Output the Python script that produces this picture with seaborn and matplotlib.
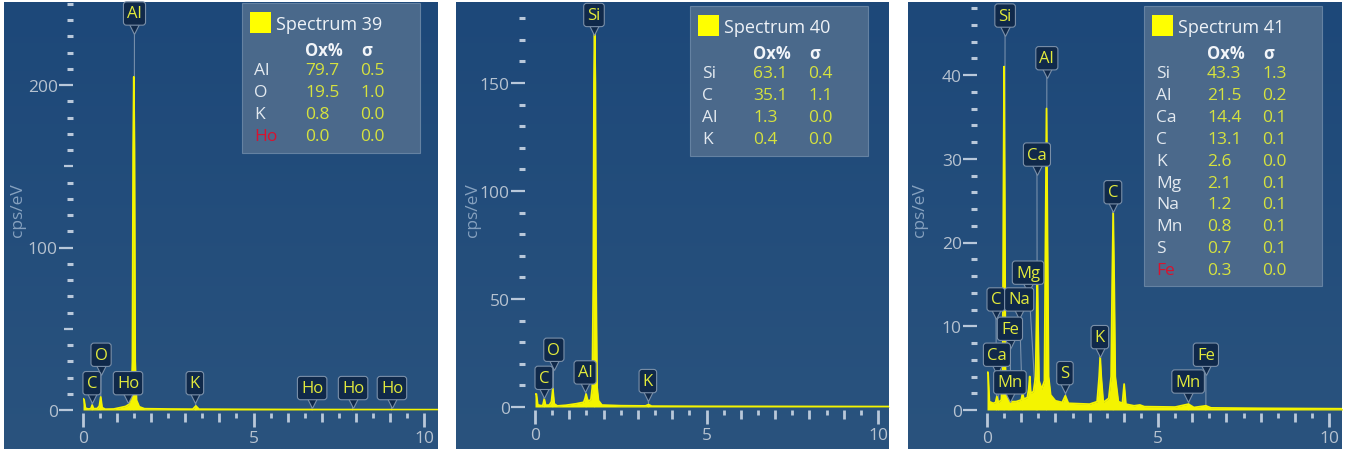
import numpy as np
import pandas as pd
import matplotlib
matplotlib.use("Agg")
import matplotlib.pyplot as plt
import seaborn as sns
from matplotlib.ticker import FixedLocator, FuncFormatter
from matplotlib.patches import Rectangle
from matplotlib.transforms import offset_copy

# ---------------------------------------------------------------- data
# Spectrum 39
s39_energy = [0.00, 0.03, 0.07, 0.15, 0.23, 0.27, 0.31, 0.42, 0.48, 0.52, 0.56, 0.65,
              0.90, 1.10, 1.25, 1.35, 1.42, 1.45, 1.47, 1.49, 1.51, 1.53, 1.57, 1.65,
              1.80, 2.50, 3.22, 3.31, 3.40, 4.50, 6.00, 8.00, 10.40]
s39_cps = [7.0, 6.5, 1.2, 0.6, 0.8, 3.0, 0.8, 0.9, 2.5, 8.0, 1.5, 0.5,
           0.6, 1.5, 2.2, 3.5, 8.0, 30.0, 160.0, 205.0, 160.0, 30.0, 6.0, 2.0,
           0.8, 0.6, 0.5, 2.5, 0.5, 0.4, 0.3, 0.25, 0.2]
s39_elements = ["Al", "O", "K", "Ho"]
s39_oxpct = [79.7, 19.5, 0.8, 0.0]
s39_sigma = [0.5, 1.0, 0.0, 0.0]
s39_flagged = ["Ho"]
s39_peak_names = ["Al", "O", "C", "Ho", "K", "Ho", "Ho", "Ho"]
s39_peak_energy = [1.49, 0.52, 0.27, 1.40, 3.31, 6.72, 7.91, 9.05]

# Spectrum 40
s40_energy = [0.00, 0.04, 0.08, 0.18, 0.23, 0.27, 0.31, 0.42, 0.48, 0.52, 0.56, 0.65,
              0.90, 1.20, 1.42, 1.46, 1.49, 1.52, 1.56, 1.63, 1.67, 1.70, 1.72, 1.74,
              1.76, 1.78, 1.81, 1.85, 1.95, 2.50, 3.22, 3.31, 3.40, 5.00, 10.40]
s40_cps = [6.0, 6.0, 1.0, 0.6, 0.8, 3.7, 0.8, 0.9, 2.5, 8.5, 1.5, 0.5,
           0.8, 1.5, 2.2, 4.0, 6.0, 4.0, 2.5, 3.5, 9.0, 60.0, 150.0, 174.0,
           150.0, 60.0, 9.0, 3.0, 0.9, 0.6, 0.5, 1.1, 0.4, 0.3, 0.2]
s40_elements = ["Si", "C", "Al", "K"]
s40_oxpct = [63.1, 35.1, 1.3, 0.4]
s40_sigma = [0.4, 1.1, 0.0, 0.0]
s40_flagged = []
s40_peak_names = ["Si", "O", "C", "Al", "K"]
s40_peak_energy = [1.74, 0.52, 0.27, 1.49, 3.31]

# Spectrum 41
s41_energy = [0.00, 0.03, 0.07, 0.18, 0.25, 0.29, 0.33, 0.42, 0.46, 0.48, 0.50, 0.52,
              0.54, 0.58, 0.68, 0.85, 1.00, 1.04, 1.08, 1.18, 1.22, 1.25, 1.28, 1.36,
              1.42, 1.45, 1.47, 1.49, 1.52, 1.60, 1.68, 1.71, 1.74, 1.77, 1.80, 1.86,
              2.00, 2.20, 2.29, 2.38, 3.00, 3.22, 3.28, 3.31, 3.34, 3.40, 3.56, 3.63,
              3.66, 3.69, 3.72, 3.75, 3.84, 3.96, 4.01, 4.06, 4.30, 4.47, 4.60, 5.50,
              5.89, 6.05, 6.40, 6.55, 8.00, 10.40]
s41_cps = [4.5, 4.5, 1.0, 0.8, 0.9, 1.6, 0.9, 1.2, 5.0, 25.0, 41.0, 25.0,
           5.0, 1.5, 1.0, 1.0, 1.2, 2.0, 1.3, 1.5, 2.5, 4.0, 2.0, 2.2,
           4.0, 11.0, 17.0, 11.0, 3.5, 2.5, 3.5, 20.0, 36.0, 20.0, 4.0, 1.8,
           1.1, 0.9, 1.7, 0.8, 0.7, 1.0, 4.0, 6.3, 4.0, 0.9, 1.4, 4.0,
           15.0, 23.5, 15.0, 4.0, 1.0, 0.8, 3.1, 0.7, 0.5, 0.6, 0.4, 0.35,
           0.7, 0.3, 0.5, 0.25, 0.2, 0.15]
s41_elements = ["Si", "Al", "Ca", "C", "K", "Mg", "Na", "Mn", "S", "Fe"]
s41_oxpct = [43.3, 21.5, 14.4, 13.1, 2.6, 2.1, 1.2, 0.8, 0.7, 0.3]
s41_sigma = [1.3, 0.2, 0.1, 0.1, 0.0, 0.1, 0.1, 0.1, 0.1, 0.0]
s41_flagged = ["Fe"]
s41_peak_names = ["Si", "Al", "Ca", "C", "Mg", "C", "Na", "Fe", "Ca", "Mn", "S", "K", "Mn", "Fe"]
s41_peak_energy = [0.50, 1.74, 1.47, 3.69, 1.44, 0.28, 1.04, 0.70, 0.34, 0.64, 2.31, 3.31, 5.90, 6.40]

spectrum_titles = ["Spectrum 39", "Spectrum 40", "Spectrum 41"]

# ---------------------------------------------------------------- layout (pixels of the 1351x456 canvas)
W, H = 1351, 456
layouts = [
    dict(left=4, right=437.5, top=3, bottom=450, x0=83, y0=411, kpx=34.1, cpx=1.625,
         ymajor=[0, 100, 200], ymid=[50, 150], ystep=10, ylab_x=18,
         legend=(242, 4, 420, 154),
         label_xy=[(1.51, 244), (0.53, 34), (0.26, 16.5), (1.32, 16.5), (3.28, 16.5),
                   (6.72, 13.5), (7.92, 13.5), (9.06, 13.5)]),
    dict(left=456, right=889, top=3, bottom=450, x0=535, y0=408, kpx=34.3, cpx=2.16,
         ymajor=[0, 50, 100, 150], ymid=[], ystep=10, ylab_x=473,
         legend=(690, 7, 868, 157),
         label_xy=[(1.72, 181.5), (0.55, 26.5), (0.26, 13.5), (1.46, 16.0), (3.29, 12.0)]),
    dict(left=908, right=1342, top=3, bottom=450, x0=987, y0=411, kpx=34.2, cpx=8.375,
         ymajor=[0, 10, 20, 30, 40], ymid=[], ystep=2, ylab_x=920,
         legend=(1144, 7, 1322, 287),
         label_xy=[(0.53, 47.1), (1.75, 42.0), (1.46, 30.5), (3.68, 26.0), (1.20, 16.4),
                   (0.26, 13.2), (0.94, 13.2), (0.67, 9.7), (0.29, 6.6), (0.67, 3.3),
                   (2.28, 4.4), (3.30, 8.7), (5.88, 3.4), (6.40, 6.6)]),
]

spectra = [
    (s39_energy, s39_cps, s39_elements, s39_oxpct, s39_sigma, s39_flagged, s39_peak_names, s39_peak_energy),
    (s40_energy, s40_cps, s40_elements, s40_oxpct, s40_sigma, s40_flagged, s40_peak_names, s40_peak_energy),
    (s41_energy, s41_cps, s41_elements, s41_oxpct, s41_sigma, s41_flagged, s41_peak_names, s41_peak_energy),
]

# ---------------------------------------------------------------- style
sns.set_theme(style="dark")
plt.rcParams["font.family"] = ["Open Sans", "DejaVu Sans"]

BG_TOP = np.array([0x1d, 0x48, 0x79]) / 255
BG_BOT = np.array([0x2a, 0x53, 0x7e]) / 255
SPEC_YELLOW = "#f4f400"
LABEL_YELLOW = "#e2ea3c"
VALUE_YELLOW = "#d6e23e"
TICK_COLOR = "#b9c8da"
TICKLABEL_COLOR = "#b6c2d0"
BOX_FC = "#10294a"
BOX_EC = "#7a8fa8"
LINE_C = "#9aabbf"


def fig_rect(l, t, r, b):
    return [l / W, 1 - b / H, (r - l) / W, (b - t) / H]


fig = plt.figure(figsize=(W / 100, H / 100), dpi=100)
fig.patch.set_facecolor("white")

grad = np.linspace(0, 1, 256)[:, None, None] * (BG_BOT - BG_TOP) + BG_TOP
grad = np.repeat(grad, 2, axis=1)

for L, (energy, cps, elements, oxpct, sigma, flagged, pnames, penergy), title in zip(layouts, spectra, spectrum_titles):
    # panel background
    bg = fig.add_axes(fig_rect(L["left"], L["top"], L["right"], L["bottom"]))
    bg.imshow(grad, aspect="auto", extent=[0, 1, 0, 1], interpolation="bilinear")
    bg.set_axis_off()

    # data axes
    ax = fig.add_axes(fig_rect(L["x0"], L["top"], L["right"], L["y0"]))
    ax.set_facecolor("none")
    ax.grid(False)
    xmax = (L["right"] - L["x0"]) / L["kpx"]
    ymax = (L["y0"] - L["top"]) / L["cpx"]

    df = pd.DataFrame({"energy": energy, "cps": cps})
    ax.fill_between(df["energy"], df["cps"], 0, color=SPEC_YELLOW, lw=0, zorder=3)
    sns.lineplot(data=df, x="energy", y="cps", ax=ax, color=SPEC_YELLOW, lw=1.3,
                 sort=False, estimator=None, zorder=3)
    ax.set_xlim(0, xmax)
    ax.set_ylim(0, ymax)
    ax.set_xlabel("")
    ax.set_ylabel("")

    for s in ax.spines.values():
        s.set_visible(False)
    ax.spines["left"].set_position(("outward", 7.2))
    ax.spines["bottom"].set_position(("outward", 2.2))

    # ticks
    xmaj = list(range(0, 11))
    xmin = [i * 0.5 for i in range(0, 21)]
    ax.xaxis.set_major_locator(FixedLocator(xmaj))
    ax.xaxis.set_minor_locator(FixedLocator(xmin))
    ax.xaxis.set_major_formatter(FuncFormatter(lambda v, p: f"{v:.0f}" if v % 5 == 0 else ""))
    ymaj = sorted(L["ymajor"] + L["ymid"])
    ymin = list(np.arange(0, ymax, L["ystep"]))
    labelled = set(L["ymajor"])
    ax.yaxis.set_major_locator(FixedLocator(ymaj))
    ax.yaxis.set_minor_locator(FixedLocator(ymin))
    ax.yaxis.set_major_formatter(FuncFormatter(lambda v, p, lab=labelled: f"{v:.0f}" if v in lab else ""))

    ax.tick_params(axis="both", which="both", bottom=True, left=True, color=TICK_COLOR,
                   labelcolor=TICKLABEL_COLOR, labelsize=12.5, direction="out")
    ax.tick_params(axis="y", which="major", length=10, width=1.6, pad=1)
    ax.tick_params(axis="y", which="minor", length=4.3, width=2.2)
    ax.tick_params(axis="x", which="major", length=6.5, width=2.0, pad=6)
    ax.tick_params(axis="x", which="minor", length=3.6, width=2.0)

    # peak labels
    off = offset_copy(ax.transData, fig=fig, y=-15, units="dots")
    for name, e, (lx, ly) in zip(pnames, penergy, L["label_xy"]):
        ax.annotate("", xy=(e, 0), xytext=(lx, ly),
                    arrowprops=dict(arrowstyle="-", color=LINE_C, lw=0.8, alpha=0.7,
                                    shrinkA=0, shrinkB=0), zorder=2)
        ax.plot([lx], [ly], marker="v", ms=6.5, mfc=BOX_FC, mec=BOX_EC, mew=0.8,
                transform=off, zorder=5, clip_on=False)
        ax.text(lx, ly, name, ha="center", va="center", fontsize=12, color=LABEL_YELLOW,
                bbox=dict(boxstyle="round,pad=0.22,rounding_size=0.18", fc=BOX_FC, ec=BOX_EC, lw=0.8),
                zorder=6, clip_on=False)

    # y label
    fig.text(L["ylab_x"] / W, 1 - 210 / H, "cps/eV", rotation=90, ha="center", va="center",
             fontsize=12.5, color="#86a1bf")

    # legend / result table
    l, t, r, b = L["legend"]
    fig.add_artist(Rectangle((l / W, 1 - b / H), (r - l) / W, (b - t) / H,
                             transform=fig.transFigure, fc="#4f6c8d", ec="#6a86a5", lw=0.8, alpha=0.92))
    fig.add_artist(Rectangle(((l + 8) / W, 1 - (t + 30) / H), 21 / W, 21 / H,
                             transform=fig.transFigure, fc="#ffff00", ec="none"))
    fig.text((l + 34) / W, 1 - (t + 21) / H, title, ha="left", va="center",
             fontsize=13, color="#eef2f7")
    fig.text((l + 63) / W, 1 - (t + 47) / H, "Ox%", ha="left", va="center",
             fontsize=12, color="#f2f5f9", fontweight="bold")
    fig.text((l + 119) / W, 1 - (t + 47) / H, "σ", ha="left", va="center",
             fontsize=12, color="#f2f5f9", fontweight="bold")
    for i, (el, ox, sg) in enumerate(zip(elements, oxpct, sigma)):
        yy = 1 - (t + 67 + 21.9 * i) / H
        fig.text((l + 12) / W, yy, el, ha="left", va="center", fontsize=12.5,
                 color="#d9122f" if el in flagged else "#e3e9f0")
        fig.text((l + 63) / W, yy, f"{ox:.1f}", ha="left", va="center", fontsize=12.5, color=VALUE_YELLOW)
        fig.text((l + 118) / W, yy, f"{sg:.1f}", ha="left", va="center", fontsize=12.5, color=VALUE_YELLOW)

    # longer ticks at the labelled positions (set last so tick_params does not reset them)
    for tk, loc in zip(ax.xaxis.get_major_ticks(), xmaj):
        if loc % 5 == 0:
            tk.tick1line.set_markersize(10)
    for tk, loc in zip(ax.yaxis.get_major_ticks(), ymaj):
        if loc not in labelled:
            tk.tick1line.set_markersize(6.5)

fig.savefig("out.png", dpi=100, facecolor="white")
